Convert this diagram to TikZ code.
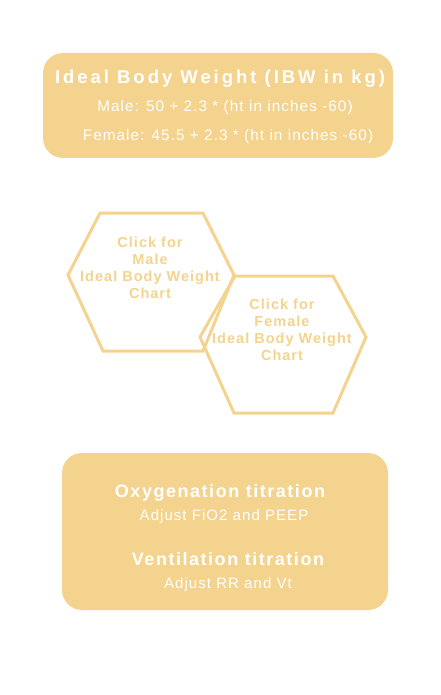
\documentclass[tikz,border=0pt]{standalone}
\usepackage{fontspec}
\setmainfont{Liberation Sans}
\newfontfamily\headface[LetterSpace=16]{Liberation Sans}
\newfontfamily\boldface[LetterSpace=8.5]{Liberation Sans}
\newfontfamily\subface[LetterSpace=7]{Liberation Sans}
\newfontfamily\hexface[LetterSpace=7]{Liberation Sans}
\definecolor{ibwgold}{HTML}{F4D38F}
\tikzset{
  panel/.style={fill=ibwgold, rounded corners=20pt},
  hexline/.style={draw=ibwgold, line width=3pt, line join=miter},
  headtext/.style={anchor=base, text=white, font=\headface\bfseries\fontsize{18.5}{20}\selectfont},
  boldhead/.style={anchor=base, text=white, font=\boldface\bfseries\fontsize{18}{20}\selectfont},
  subtext/.style={anchor=base, text=white, font=\subface\fontsize{15}{17}\selectfont},
  formulatext/.style={subtext, font=\subface\fontsize{15.3}{17}\selectfont},
  hextext/.style={text=ibwgold, align=center, font=\hexface\bfseries\fontsize{14.5}{17}\selectfont},
}
\begin{document}
\begin{tikzpicture}[x=1pt,y=-1pt]
    \useasboundingbox (0,0) rectangle (440,695);
    % formula panel
    \fill[panel] (43,53) rectangle (393,158);
    \node[headtext] (ibwtitle) at (220,83.5) {Ideal Body Weight (IBW in kg)};
    \node[formulatext] (maleformula) at (225,111.5) {Male: 50 + 2.3 * (ht in inches -60)};
    \node[formulatext] (femaleformula) at (228,141) {Female: 45.5 + 2.3 * (ht in inches -60)};

    % chart links
    \draw[hexline] (100,213) -- (203,213) -- (234,275) -- (203,351) -- (103,351) -- (68,275) -- cycle;
    \draw[hexline] (235,276) -- (333,276) -- (366,337) -- (333,413) -- (234,413) -- (200,337) -- cycle;
    \node[hextext] (malechart) at (150,267.5) {Click for\\Male\\Ideal Body Weight\\Chart};
    \node[hextext] (femalechart) at (282,329.5) {Click for\\Female\\Ideal Body Weight\\Chart};

    % titration panel
    \fill[panel] (62,453) rectangle (388,610);
    \node[boldhead] (oxytitle) at (220,497.7) {Oxygenation titration};
    \node[subtext] (oxyadjust) at (224,520) {Adjust FiO2 and PEEP};
    \node[boldhead] (ventitle) at (228,565.7) {Ventilation titration};
    \node[subtext] (ventadjust) at (228,588.3) {Adjust RR and Vt};
\end{tikzpicture}
\end{document}
